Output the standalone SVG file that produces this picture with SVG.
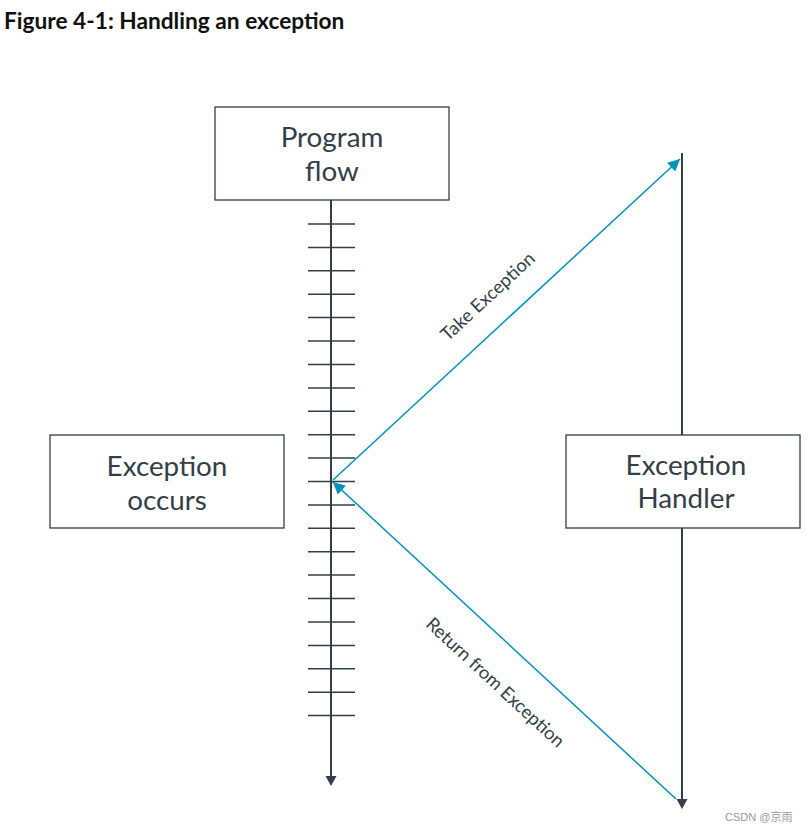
<svg xmlns="http://www.w3.org/2000/svg" width="808" height="832" viewBox="0 0 808 832">
<defs>
<style>
.box{fill:#fff;stroke:#333e48;stroke-width:1.3}
.lbl{font-family:Lato,"Open Sans",sans-serif;font-size:27.8px;fill:#333e48;text-anchor:middle}
.axis{stroke:#333e48;stroke-width:2;fill:none}
.tick{stroke:#333e48;stroke-width:1.5}
.blue{stroke:#0091bd;stroke-width:1.5;fill:none}
.diag{font-family:Lato,"Open Sans",sans-serif;font-size:18.3px;fill:#333e48;text-anchor:middle}
</style>
<marker id="bh" viewBox="0 0 10 10" refX="10" refY="5" markerWidth="14" markerHeight="12" markerUnits="userSpaceOnUse" orient="auto">
<path d="M0,0 L10,5 L0,10 z" fill="#0091bd"/>
</marker>
</defs>
<rect width="808" height="832" fill="#fff"/>
<text x="4" y="29" font-family="Lato,'Open Sans',sans-serif" font-weight="bold" font-size="22.7" fill="#111">Figure 4-1: Handling an exception</text>

<g id="program-flow">
<rect class="box" x="215" y="107" width="234" height="93"/>
<text class="lbl" x="332" y="147">Program</text>
<text class="lbl" x="332" y="181">flow</text>
</g>
<g id="exception-occurs">
<rect class="box" x="50" y="435" width="234" height="93"/>
<text class="lbl" x="167" y="476">Exception</text>
<text class="lbl" x="167" y="510">occurs</text>
</g>
<g id="exception-handler">
<rect class="box" x="566" y="435" width="234" height="93"/>
<text class="lbl" x="686" y="475">Exception</text>
<text class="lbl" x="686" y="508">Handler</text>
</g>

<g id="connectors">
<line class="axis" x1="331" y1="200" x2="331" y2="777"/>
<path d="M325.5,776 L336.5,776 L331,786 z" fill="#333e48"/>
<g class="tick">
<line x1="308" y1="224" x2="355" y2="224"/>
<line x1="308" y1="247.4" x2="355" y2="247.4"/>
<line x1="308" y1="270.8" x2="355" y2="270.8"/>
<line x1="308" y1="294.2" x2="355" y2="294.2"/>
<line x1="308" y1="317.6" x2="355" y2="317.6"/>
<line x1="308" y1="341" x2="355" y2="341"/>
<line x1="308" y1="364.5" x2="355" y2="364.5"/>
<line x1="308" y1="387.9" x2="355" y2="387.9"/>
<line x1="308" y1="411.3" x2="355" y2="411.3"/>
<line x1="308" y1="434.7" x2="355" y2="434.7"/>
<line x1="308" y1="458.1" x2="355" y2="458.1"/>
<line x1="308" y1="481.5" x2="355" y2="481.5"/>
<line x1="308" y1="504.9" x2="355" y2="504.9"/>
<line x1="308" y1="528.3" x2="355" y2="528.3"/>
<line x1="308" y1="551.7" x2="355" y2="551.7"/>
<line x1="308" y1="575.1" x2="355" y2="575.1"/>
<line x1="308" y1="598.6" x2="355" y2="598.6"/>
<line x1="308" y1="622" x2="355" y2="622"/>
<line x1="308" y1="645.4" x2="355" y2="645.4"/>
<line x1="308" y1="668.8" x2="355" y2="668.8"/>
<line x1="308" y1="692.2" x2="355" y2="692.2"/>
<line x1="308" y1="715.6" x2="355" y2="715.6"/>
</g>
<line class="axis" x1="682" y1="153" x2="682" y2="435"/>
<line class="axis" x1="682" y1="528" x2="682" y2="800"/>
<path d="M676.5,799 L687.5,799 L682,809 z" fill="#333e48"/>
<line class="blue" x1="333" y1="480" x2="680" y2="159" marker-end="url(#bh)"/>
<line class="blue" x1="676" y1="799" x2="333" y2="482" marker-end="url(#bh)"/>
<text class="diag" transform="translate(492,301) rotate(-42.8)">Take Exception</text>
<text class="diag" transform="translate(491,687) rotate(42.8)">Return from Exception</text>
</g>
<text x="725" y="821" font-family="'Liberation Sans','Noto Sans CJK SC',sans-serif" font-size="11" fill="#999">CSDN @京雨</text>
</svg>
